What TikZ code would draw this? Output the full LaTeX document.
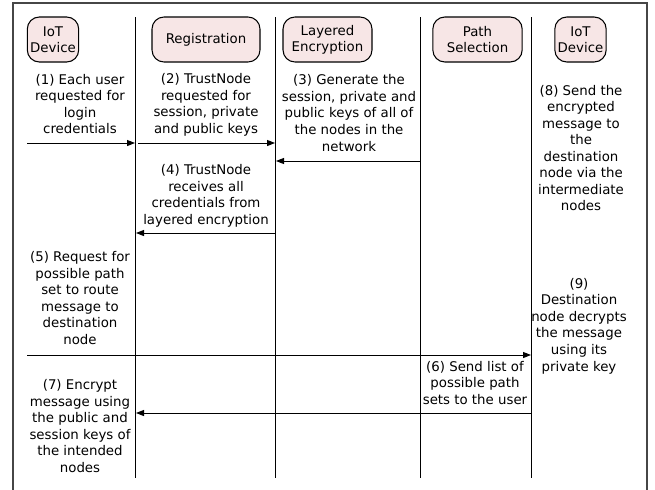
\documentclass[tikz,border=0pt]{standalone}
\usepackage{fontspec}
\setmainfont{DejaVu Sans}
\usetikzlibrary{arrows.meta}
\definecolor{headfill}{RGB}{247,230,230}
\definecolor{framecol}{RGB}{70,70,70}
\begin{document}
\begin{tikzpicture}[x=0.75pt,y=-0.75pt,
  head/.style={draw=black, fill=headfill, rounded corners=9pt, align=center,
    inner sep=0pt, line width=0.8pt, minimum height=33.75pt,
    font=\fontsize{10}{11.8}\selectfont},
  lbl/.style={align=center, inner sep=0pt, font=\fontsize{10}{12.4}\selectfont},
  msg/.style={-{Triangle[length=6pt,width=4.5pt]}, line width=0.75pt},
  lane/.style={line width=0.75pt}]
\useasboundingbox (0,0) rectangle (655,489);
\fill[white] (0,0) rectangle (655,489);
% frame
\draw[framecol, line width=0.8pt] (13,495) -- (13,3) -- (647,3) -- (647,495);
% header boxes
\node[head, minimum width=38.5pt] (h1) at (53,39.5) {IoT\\Device};
\node[head, minimum width=81pt] (h2) at (206,39.5) {Registration};
\node[head, minimum width=66.75pt] (h3) at (327.5,39.5) {Layered\\Encryption};
\node[head, minimum width=67pt] (h4) at (477.5,39.5) {Path\\Selection};
\node[head, minimum width=38.5pt] (h5) at (580.5,39.5) {IoT\\Device};
% lane separators
\coordinate (l1t) at (135,17); \coordinate (l1b) at (135,478);
\coordinate (l2t) at (275,17); \coordinate (l2b) at (275,478);
\coordinate (l3t) at (420,17); \coordinate (l3b) at (420,478);
\coordinate (l4t) at (531,17); \coordinate (l4b) at (531,478);
\draw[lane] (l1t) -- (l1b);
\draw[lane] (l2t) -- (l2b);
\draw[lane] (l3t) -- (l3b);
\draw[lane] (l4t) -- (l4b);
% labels
\node[lbl] (t1) at (80,104) {(1) Each user\\requested for\\login\\credentials};
\node[lbl] (t2) at (206,105) {(2) TrustNode\\requested for\\session, private\\and public keys};
\node[lbl] (t3) at (349,113) {(3) Generate the\\session, private and\\public keys of all of\\the nodes in the\\network};
\node[lbl] (t4) at (206,196) {(4) TrustNode\\receives all\\credentials from\\layered encryption};
\node[lbl] (t5) at (80,298) {(5) Request for\\possible path\\set to route\\message to\\destination\\node};
\node[lbl] (t6) at (475,383) {(6) Send list of\\possible path\\sets to the user};
\node[lbl] (t7) at (80,426) {(7) Encrypt\\message using\\the public and\\session keys of\\the intended\\nodes};
\node[lbl] (t8) at (581,148) {(8) Send the\\encrypted\\message to\\the\\destination\\node via the\\intermediate\\nodes};
\node[lbl] (t9) at (579,326) {(9)\\Destination\\node decrypts\\the message\\using its\\private key};
% message arrows
\coordinate (a1s) at (27,143);  \coordinate (a1e) at (135,143);
\coordinate (a2s) at (138,143); \coordinate (a2e) at (275,143);
\coordinate (a3s) at (420,161); \coordinate (a3e) at (276,161);
\coordinate (a4s) at (275,233); \coordinate (a4e) at (136,233);
\coordinate (a5s) at (27,355);  \coordinate (a5e) at (531,355);
\coordinate (a7s) at (531,413); \coordinate (a7e) at (136,413);
\draw[msg] (a1s) -- (a1e);
\draw[msg] (a2s) -- (a2e);
\draw[msg] (a3s) -- (a3e);
\draw[msg] (a4s) -- (a4e);
\draw[msg] (a5s) -- (a5e);
\draw[msg] (a7s) -- (a7e);
\end{tikzpicture}
\end{document}
